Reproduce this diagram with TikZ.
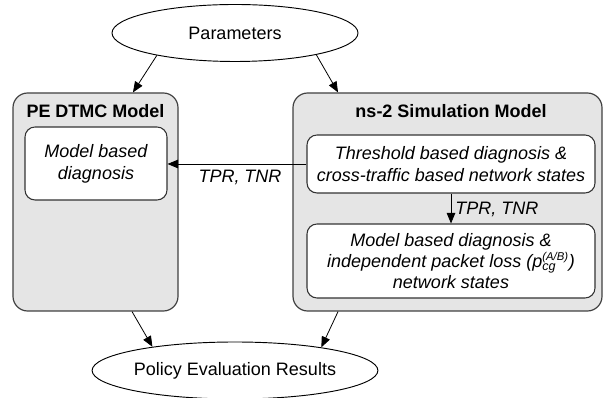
\documentclass[tikz,border=0pt]{standalone}
\usepackage{fontspec}
\setmainfont{Liberation Sans}
\usetikzlibrary{shapes.geometric,arrows.meta}
\begin{document}
\begin{tikzpicture}[x=0.75pt,y=-0.75pt,
  every node/.style={font=\fontsize{13.5}{16.5}\selectfont, text=black},
  outerbox/.style={draw=black!75, fill=black!10, line width=0.9pt, rounded corners=11pt, inner sep=0pt},
  innerbox/.style={draw=black!80, fill=white, line width=0.8pt, rounded corners=7.5pt, inner sep=0pt, align=center, font=\fontsize{13.5}{16.5}\selectfont\itshape},
  oval/.style={ellipse, draw=black, line width=0.7pt, fill=white, inner sep=0pt},
  title/.style={font=\fontsize{13.5}{16.5}\selectfont\bfseries, anchor=base},
  conn/.style={draw=black, line width=0.6pt, -{Triangle[length=8pt,width=6.5pt]}},
  lbl/.style={font=\fontsize{13.5}{16.5}\selectfont\itshape, inner sep=0pt}
]
\useasboundingbox (0,0) rectangle (603,398);
% ellipses
\node[oval, minimum width=246*0.75pt, minimum height=57*0.75pt] (params) at (235,33) {Parameters};
\node[oval, minimum width=246*0.75pt, minimum height=57*0.75pt] (policy) at (235,370.5) {Policy Evaluation Results};
% outer boxes
\node[outerbox, minimum width=165*0.75pt, minimum height=218*0.75pt] (pe) at (95.5,202) {};
\node[outerbox, minimum width=309*0.75pt, minimum height=218*0.75pt] (ns) at (447.5,202) {};
\node[title] (petitle) at (95.5,118) {PE DTMC Model};
\node[title] (nstitle) at (451,118) {ns-2 Simulation Model};
% inner boxes
\node[innerbox, minimum width=142*0.75pt, minimum height=73*0.75pt] (m1) at (96,163.5) {Model based\\diagnosis};
\node[innerbox, minimum width=288*0.75pt, minimum height=58*0.75pt] (t1) at (451,164) {Threshold based diagnosis \&\\cross-traffic based network states};
\node[innerbox, minimum width=288*0.75pt, minimum height=74*0.75pt, font=\fontsize{13.5}{15.5}\selectfont\itshape] (t2) at (451,261) {Model based diagnosis \&\\independent packet loss (p\rlap{\textsubscript{cg}}\textsuperscript{\fontsize{8.5}{9}\selectfont(A/B)})\\network states};
% connectors
\draw[conn] (t1.west) -- (t1.west -| m1.east);
\node[lbl] (l1) at (240,177) {TPR, TNR};
\draw[conn] (t1.south) -- (t2.north);
\node[lbl, anchor=west] (l2) at (455,209) {TPR, TNR};
\draw[conn] (params.196.7) -- ([xshift=28.1pt]pe.north);
\draw[conn] (params.345) -- ([xshift=-82.1pt]ns.north);
\draw[conn] ([xshift=27.4pt]pe.south) -- (policy.164.3);
\draw[conn] ([xshift=-82.1pt]ns.south) -- (policy.15.3);
\end{tikzpicture}
\end{document}
